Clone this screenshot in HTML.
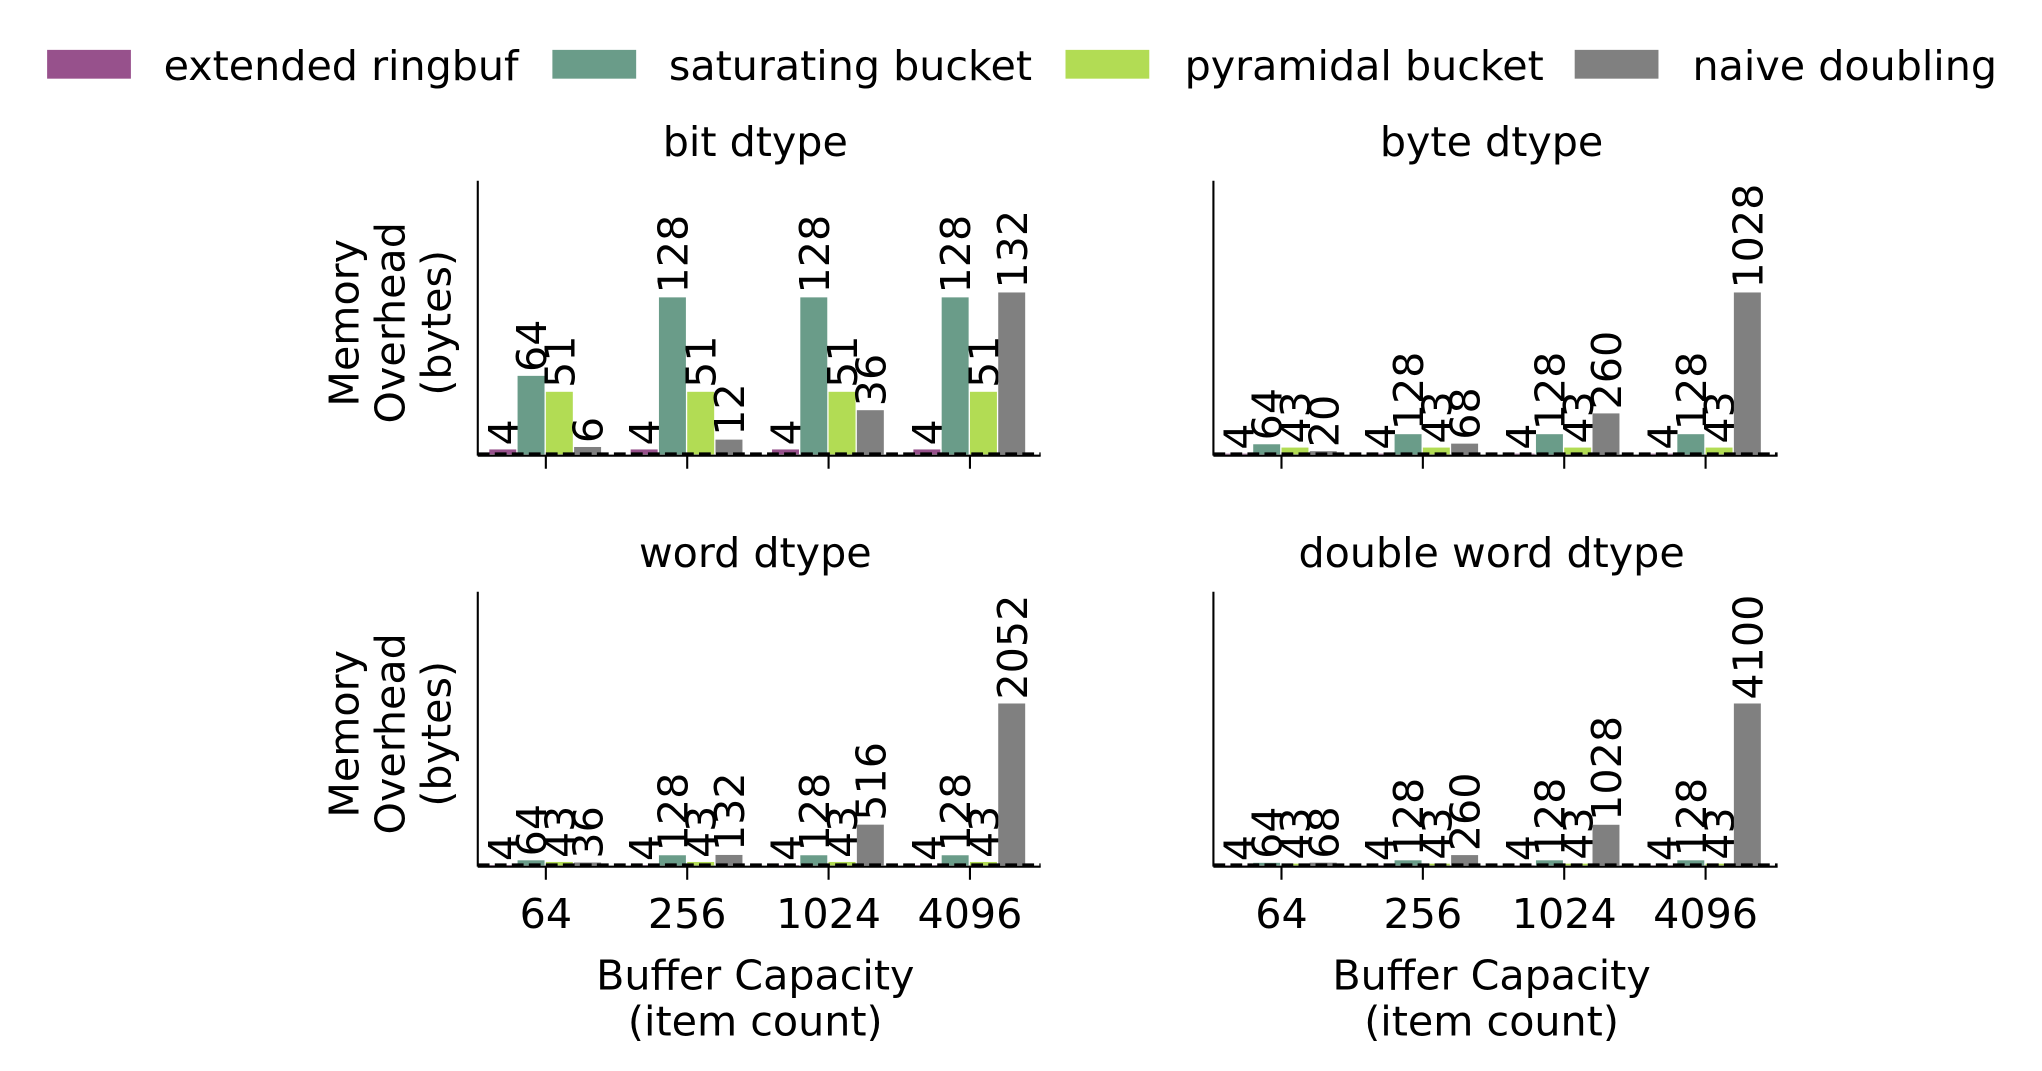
<!DOCTYPE html>
<html><head><meta charset="utf-8"><style>
html,body{margin:0;padding:0;background:#fff;}
svg{display:block;font-family:"DejaVu Sans","Liberation Sans",sans-serif;}
</style></head><body>
<svg id="chart" width="2042" height="1071" viewBox="0 0 1560 818" xmlns="http://www.w3.org/2000/svg"></svg>
<script>
const categories = ["64","256","1024","4096"];
const seriesNames = ["extended ringbuf","saturating bucket","pyramidal bucket","naive doubling"];
const seriesColors = ["#97518c","#6a9c89","#b2dc54","#808080"];
const panelTitles = ["bit dtype","byte dtype","word dtype","double word dtype"];
const extRingbuf = [[4,4,4,4],[4,4,4,4],[4,4,4,4],[4,4,4,4]];
const satBucket = [[64,128,128,128],[64,128,128,128],[64,128,128,128],[64,128,128,128]];
const pyrBucket = [[51,51,51,51],[43,43,43,43],[43,43,43,43],[43,43,43,43]];
const naiveDoubling = [[6,12,36,132],[20,68,260,1028],[36,132,516,2052],[68,260,1028,4100]];

const svg = document.getElementById('chart');
const NS = "http://www.w3.org/2000/svg";
const FS = 31.5;
function mk(tag, attrs, parent){const e=document.createElementNS(NS,tag);for(const k in attrs)e.setAttribute(k,attrs[k]);(parent||svg).appendChild(e);return e;}

const legX=[36,422,814,1203];
const legTX=[125,511,905,1293];
seriesNames.forEach((n,i)=>{
  const g=mk('g',{});
  
  
  mk('rect',{x:legX[i],y:38,width:64,height:22,fill:seriesColors[i]},g);
  const t=mk('text',{x:legTX[i],y:61,'font-size':FS,fill:'#000'},g);
  t.textContent=n;
});

const panels=[{x0:365,x1:795,yt:138,yb:347},{x0:927,x1:1358,yt:138,yb:347},{x0:365,x1:795,yt:452,yb:661},{x0:927,x1:1358,yt:452,yb:661}];
const allSeries=[extRingbuf,satBucket,pyrBucket,naiveDoubling];
panels.forEach((p,pi)=>{
  const g=mk('g',{});
  
  
  const maxV=Math.max(...allSeries.map(s=>Math.max(...s[pi])));
  const yMax=maxV*1.69;
  const yS=v=>p.yb-(v/yMax)*(p.yb-p.yt);
  const step=108;
  const xC=i=>p.x0+52+i*step;
  const bw=21.6;
  const title=mk('text',{x:(p.x0+p.x1)/2-3,y:p.yt-19,'font-size':FS,'text-anchor':'middle'},g);
  title.textContent=panelTitles[pi];
  
  allSeries.forEach((s,si)=>{
    s[pi].forEach((v,ci)=>{
      const x=xC(ci)-2*bw+si*bw;
      const y=yS(v);
      const r=mk('rect',{x:x,y:y,width:bw-1,height:p.yb-y,fill:seriesColors[si]},g);
      
      
      const lx=x+bw/2+11, ly=y-3;
      const t=mk('text',{x:lx,y:ly,'font-size':FS,transform:`rotate(-90 ${lx} ${ly})`},g);
      t.textContent=v;
      
    });
  });
  mk('line',{x1:p.x0,y1:p.yb,x2:p.x1,y2:p.yb,stroke:'#000','stroke-width':3,'stroke-dasharray':'9 4'},g);
  mk('line',{x1:p.x0,y1:p.yt,x2:p.x0,y2:p.yb+1,stroke:'#000','stroke-width':1.6},g);
  mk('line',{x1:p.x0,y1:p.yb+1,x2:p.x1,y2:p.yb+1,stroke:'#000','stroke-width':1.6},g);
  categories.forEach((c,ci)=>{
    mk('line',{x1:xC(ci),y1:p.yb+1,x2:xC(ci),y2:p.yb+11,stroke:'#000','stroke-width':1.6},g);
    if(pi>=2){const t=mk('text',{x:xC(ci),y:p.yb+48,'font-size':FS,'text-anchor':'middle'},g);t.textContent=c;}
  });
  if(pi>=2){
    const cx=(p.x0+p.x1)/2-3;
    const a=mk('text',{x:cx,y:p.yb+95,'font-size':FS,'text-anchor':'middle'},g);a.textContent='Buffer Capacity';
    const b=mk('text',{x:cx,y:p.yb+130,'font-size':FS,'text-anchor':'middle'},g);b.textContent='(item count)';
  }
  if(pi%2===0){
    const cy=(p.yt+p.yb)/2+4;
    ['Memory','Overhead','(bytes)'].forEach((w,k)=>{
      const lx=274+k*35;
      const t=mk('text',{x:lx,y:cy,'font-size':FS,'text-anchor':'middle',transform:`rotate(-90 ${lx} ${cy})`},g);
      t.textContent=w;
      
    });
  }
});
</script>
</body></html>
